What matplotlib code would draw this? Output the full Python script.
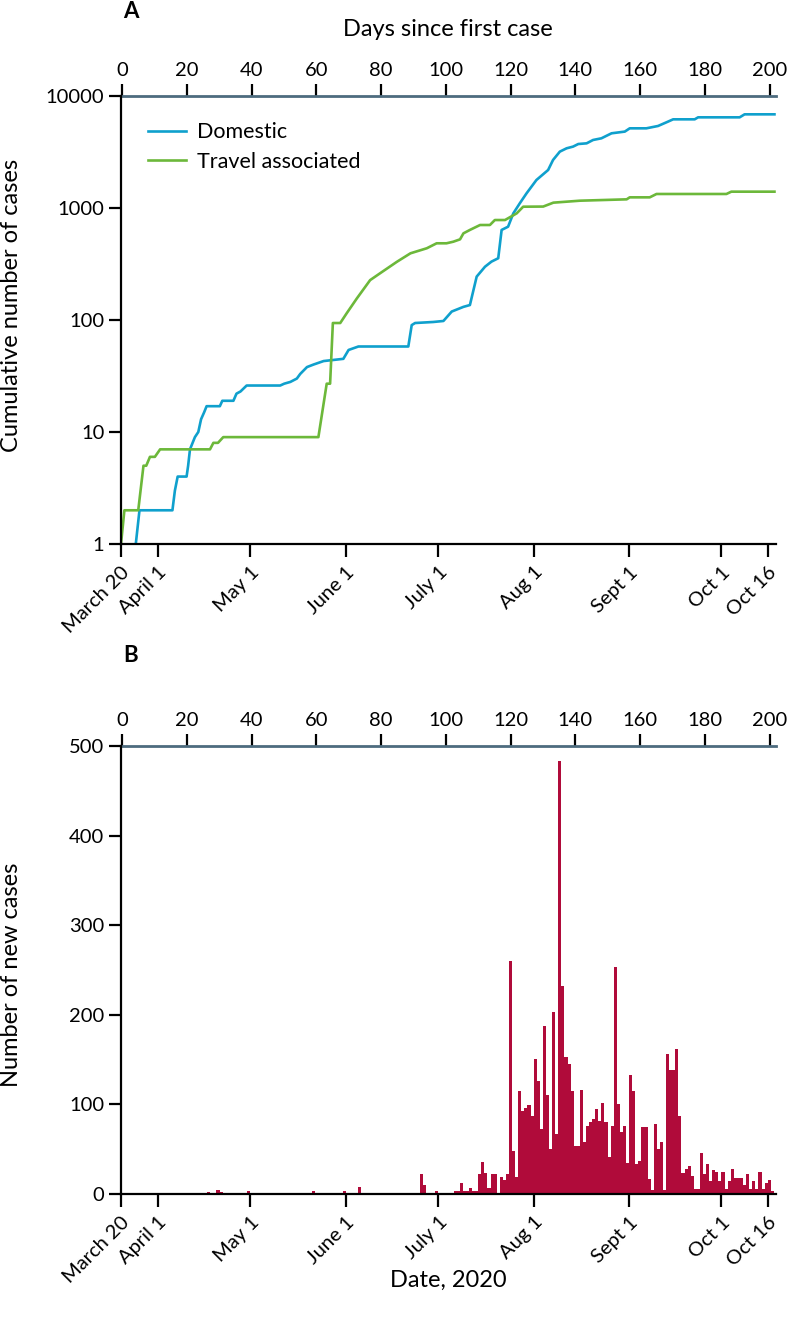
import matplotlib
matplotlib.use('Agg')
import matplotlib.pyplot as plt

plt.rcParams['font.family'] = ['Lato', 'DejaVu Sans']

# Panel A: cumulative cases, x = days since March 20
domestic_days = [4.8, 6.0, 16.7, 17.5, 18.4, 21.3, 21.8, 22.4, 24.0, 25.1,
                 26.0, 27.0, 27.8, 32.1, 32.9, 36.5, 37.5, 38.8, 40.8, 51.7,
                 53.0, 55.0, 57.1, 58.2, 60.4, 62.5, 65.8, 72.2, 73.9, 77.1,
                 93.3, 94.4, 95.5, 101.4, 104.7, 107.4, 111.2, 113.3, 115.5, 118.2,
                 120.3, 122.5, 123.6, 125.7, 127.4, 129.5, 131.7, 134.9, 138.7, 140.3,
                 142.5, 144.7, 146.8, 148.5, 151.2, 153.3, 156.0, 159.3, 163.6, 165.2,
                 170.6, 174.4, 177.6, 179.3, 186.3, 187.4, 200.9, 202.5, 212.2]
domestic_cum = [1, 2, 2, 3, 4, 4, 5, 7, 9, 10,
                13, 15, 17, 17, 19, 19, 22, 23, 26, 26,
                27, 28, 30, 33, 38, 40, 43, 45, 54, 58,
                58, 90, 94, 96, 98, 119, 131, 136, 244, 299,
                332, 356, 637, 681, 896, 1101, 1353, 1778, 2184, 2685,
                3186, 3412, 3533, 3727, 3779, 4049, 4190, 4645, 4810, 5145,
                5145, 5400, 5900, 6190, 6190, 6450, 6450, 6860, 6860]

travel_days = [0, 1.1, 5.6, 7.3, 8.2, 9.4, 11.0, 12.7, 28.9, 30.0,
               31.5, 33.2, 64.1, 66.8, 67.9, 68.8, 71.2, 73.3, 76.6, 80.9,
               84.1, 89.6, 94.0, 99.3, 102.5, 105.7, 107.9, 110.1, 111.2, 113.3,
               116.6, 119.8, 121.4, 124.7, 128.5, 130.6, 137.1, 140.4, 149.0, 164.2,
               165.2, 171.7, 173.9, 196.6, 198.2, 212.2]
travel_cum = [1, 2, 2, 5, 5, 6, 6, 7, 7, 8,
              8, 9, 9, 27, 27, 94, 94, 115, 156, 227,
              261, 331, 394, 437, 484, 484, 500, 525, 594, 637,
              705, 705, 781, 781, 896, 1027, 1030, 1116, 1162, 1195,
              1245, 1245, 1334, 1334, 1399, 1399]

# Panel B: new cases per day, first value is March 20
new_cases = [0, 0, 0, 0, 0, 0, 0, 0, 1, 1,
             0, 1, 0, 0, 0, 0, 0, 0, 0, 0,
             0, 0, 1, 1, 0, 1, 1, 0, 2, 1,
             0, 4, 2, 1, 0, 0, 0, 1, 1, 0,
             0, 3, 0, 1, 1, 0, 0, 0, 0, 0,
             0, 0, 0, 0, 0, 1, 1, 0, 0, 1,
             1, 0, 3, 0, 1, 0, 0, 1, 1, 0,
             1, 0, 3, 0, 0, 0, 0, 8, 1, 0,
             1, 1, 0, 0, 0, 0, 0, 0, 0, 0,
             1, 0, 0, 0, 0, 0, 0, 22, 10, 0,
             1, 0, 3, 0, 0, 0, 0, 0, 3, 3,
             12, 3, 3, 7, 3, 3, 22, 36, 23, 7,
             22, 22, 1, 19, 16, 22, 260, 48, 19, 115,
             93, 96, 99, 87, 151, 126, 73, 188, 110, 50,
             203, 67, 483, 232, 153, 145, 115, 54, 54, 116,
             58, 76, 80, 84, 95, 82, 102, 80, 41, 76,
             253, 100, 69, 76, 35, 133, 115, 34, 37, 75,
             75, 17, 4, 78, 50, 58, 4, 156, 138, 138,
             162, 87, 23, 28, 31, 20, 6, 6, 46, 22,
             34, 14, 27, 25, 14, 24, 6, 15, 28, 18,
             18, 18, 10, 22, 6, 14, 6, 24, 6, 12,
             16, 3]

date_ticks = [0, 12, 42, 73, 103, 134, 165, 195, 210]
date_labels = ['March 20', 'April 1', 'May 1', 'June 1', 'July 1',
               'Aug 1', 'Sept 1', 'Oct 1', 'Oct 16']
day_ticks = [0, 20, 40, 60, 80, 100, 120, 140, 160, 180, 200]

blue = '#0fa0cd'
green = '#6cb83a'
red = '#b00b3a'
slate = '#4d6b7e'
tick_fs = 14.5
label_fs = 17

W, H = 789, 1318
fig = plt.figure(figsize=(W / 100, H / 100), dpi=100)

def px_box(left, top, right, bottom):
    return [left / W, 1 - bottom / H, (right - left) / W, (bottom - top) / H]

def day_to_top(x):
    return (x - 0.4) / 1.051

def top_to_day(t):
    return t * 1.051 + 0.4

def style_axes(ax):
    ax.set_xlim(0, 212.7)
    ax.spines['right'].set_visible(False)
    ax.spines['top'].set_visible(False)
    for s in ['left', 'bottom']:
        ax.spines[s].set_linewidth(1.6)
    ax.tick_params(direction='out', length=9, width=1.6, labelsize=tick_fs, pad=3)
    ax.set_xticks(date_ticks)
    ax.set_xticklabels(date_labels, rotation=45, ha='right', va='top',
                       rotation_mode='anchor')
    ax.tick_params(axis='x', pad=5)
    sec = ax.secondary_xaxis('top', functions=(day_to_top, top_to_day))
    sec.spines['top'].set_color(slate)
    sec.spines['top'].set_linewidth(2)
    sec.set_xticks(day_ticks)
    sec.tick_params(direction='out', length=9, width=1.6, labelsize=tick_fs, pad=3)
    return sec

# panel A
ax1 = fig.add_axes(px_box(121, 96, 776, 544))
ax1.plot(domestic_days, domestic_cum, color=blue, lw=1.9, label='Domestic')
ax1.plot(travel_days, travel_cum, color=green, lw=1.9, label='Travel associated')
ax1.set_yscale('log')
ax1.set_ylim(1, 10000)
ax1.set_yticks([1, 10, 100, 1000, 10000])
ax1.set_yticklabels(['1', '10', '100', '1000', '10000'])
ax1.minorticks_off()
style_axes(ax1)
ax1.legend(loc='upper left', bbox_to_anchor=(0.012, 0.985), frameon=False,
           fontsize=15.5, handlelength=1.75, handletextpad=0.5, labelspacing=0.45)

# panel B
ax2 = fig.add_axes(px_box(121, 746, 776, 1194))
ax2.bar(range(len(new_cases)), new_cases, width=1.0, align='edge',
        color=red, linewidth=0)
ax2.set_ylim(0, 500)
ax2.set_yticks([0, 100, 200, 300, 400, 500])
style_axes(ax2)

fig.text(123 / W, 1 - 12 / H, 'A', fontsize=16, fontweight='bold', va='center')
fig.text(123 / W, 1 - 655 / H, 'B', fontsize=16, fontweight='bold', va='center')
fig.text(448 / W, 1 - 30 / H, 'Days since first case', fontsize=label_fs,
         ha='center', va='center')
fig.text(448 / W, 1 - 1280 / H, 'Date, 2020', fontsize=label_fs, ha='center', va='center')
fig.text(12 / W, 1 - 305 / H, 'Cumulative number of cases', fontsize=label_fs,
         rotation=90, ha='center', va='center')
fig.text(12 / W, 1 - 975 / H, 'Number of new cases', fontsize=label_fs,
         rotation=90, ha='center', va='center')

fig.savefig('out.png', dpi=100)
